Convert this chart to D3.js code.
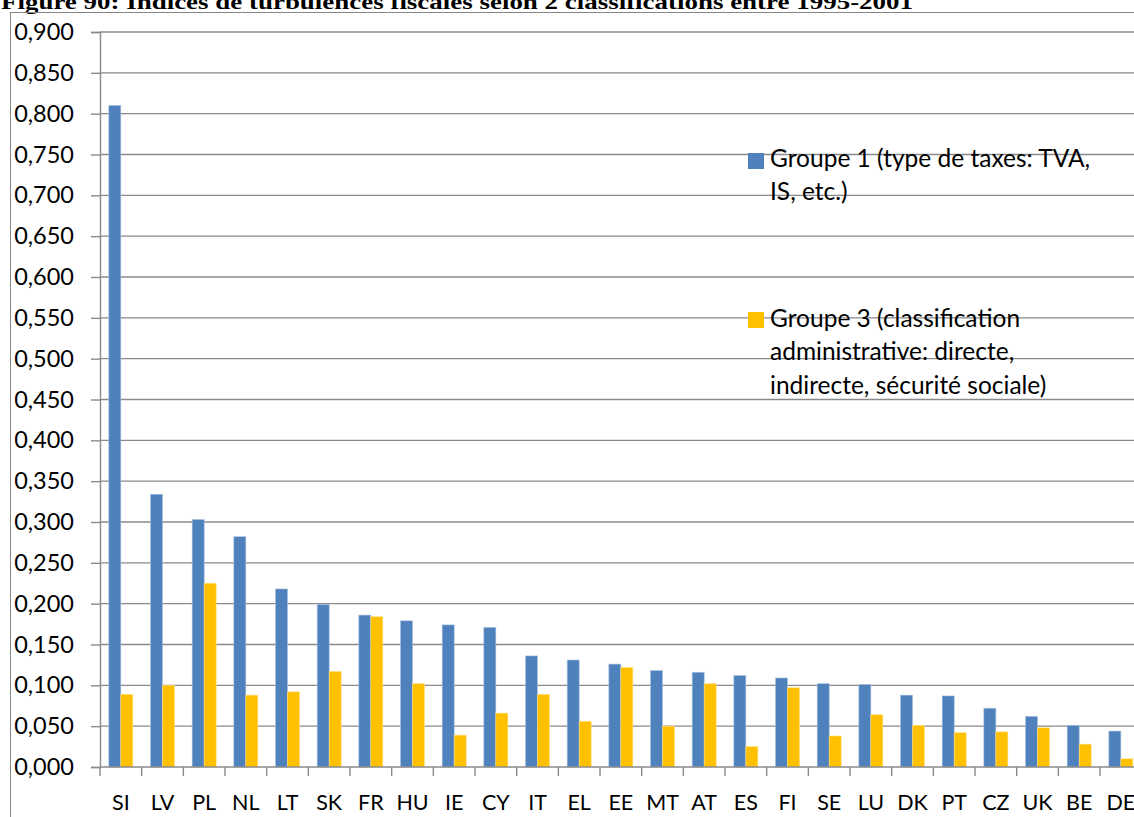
<!DOCTYPE html>
<html>
<head>
<meta charset="utf-8">
<script src="https://cdn.jsdelivr.net/npm/d3@7"></script>
<style>
  html, body { margin: 0; padding: 0; background: #fff; }
  svg { display: block; }
</style>
</head>
<body>
<svg id="chart" width="1134" height="817"></svg>
<script>
const titleText = "Figure 90: Indices de turbulences fiscales selon 2 classifications entre 1995-2001";
const categories = ["SI","LV","PL","NL","LT","SK","FR","HU","IE","CY","IT","EL","EE","MT","AT","ES","FI","SE","LU","DK","PT","CZ","UK","BE","DE"];
const groupe1 = [0.810,0.334,0.303,0.282,0.218,0.199,0.186,0.179,0.174,0.171,0.136,0.131,0.126,0.118,0.116,0.112,0.109,0.102,0.101,0.088,0.087,0.072,0.062,0.051,0.044];
const groupe3 = [0.089,0.100,0.225,0.088,0.092,0.117,0.184,0.102,0.039,0.066,0.089,0.056,0.122,0.050,0.102,0.025,0.097,0.038,0.064,0.051,0.042,0.043,0.048,0.028,0.010];
const yTicks = [0,0.05,0.1,0.15,0.2,0.25,0.3,0.35,0.4,0.45,0.5,0.55,0.6,0.65,0.7,0.75,0.8,0.85,0.9];
const seriesNames = ["Groupe 1", "Groupe 3"];
const legendLines = [
  ["Groupe 1 (type de taxes: TVA,", "IS, etc.)"],
  ["Groupe 3 (classification", "administrative: directe,", "indirecte, sécurité sociale)"]
];
const colors = ["#4F81BD", "#FFC000"];
const strokeColors = ["#A7C0DE", "#FFE080"];

const svg = d3.select("#chart");
const font = "Lato, 'Open Sans', sans-serif";

const plotLeft = 100, plotRight = 1141.7, plotTop = 32, plotBottom = 767;

// Title (cut off at the top, as in the reference)
svg.append("text")
  .attr("x", 1).attr("y", 8.5)
  .style("font-family", "'Times New Roman', 'Liberation Serif', Tinos, serif")
  .attr("font-weight", "bold")
  .attr("font-size", 22)
  .attr("textLength", 912)
  .attr("lengthAdjust", "spacingAndGlyphs")
  .text(titleText);

// Chart border
svg.append("rect")
  .attr("x", 10.5).attr("y", 12.5)
  .attr("width", 1140).attr("height", 820)
  .attr("fill", "none").attr("stroke", "#868686").attr("stroke-width", 1);

const y = d3.scaleLinear().domain([0, 0.9]).range([plotBottom, plotTop]);
const x0 = d3.scaleBand().domain(categories).range([plotLeft, plotRight])
  .paddingInner(0.424).paddingOuter(0.212);
const x1 = d3.scaleBand().domain(seriesNames).range([0, x0.bandwidth()]).padding(0);

// gridlines
svg.append("g").selectAll("line").data(yTicks.filter(d => d > 0)).join("line")
  .attr("x1", plotLeft).attr("x2", 1134)
  .attr("y1", d => y(d)).attr("y2", d => y(d))
  .attr("stroke", "#8a8a8a").attr("stroke-width", 1.4);

// Y axis
const fmt = d => d3.format(".3f")(d).replace(".", ",");
const yAxis = svg.append("g").attr("transform", `translate(${plotLeft},0)`)
  .call(d3.axisLeft(y).tickValues(yTicks).tickFormat(fmt).tickSize(9).tickPadding(17));
yAxis.select(".domain").attr("stroke", "#8a8a8a").attr("stroke-width", 1.4);
yAxis.selectAll(".tick line").attr("stroke", "#8a8a8a").attr("stroke-width", 1.4);
yAxis.selectAll(".tick text").attr("font-family", font).attr("font-size", 23.5).attr("fill", "#000");

// bars
const data = categories.map((c, i) => ({ c, vals: [groupe1[i], groupe3[i]] }));
const groups = svg.append("g").selectAll("g").data(data).join("g")
  .attr("transform", d => `translate(${x0(d.c)},0)`);
groups.selectAll("rect").data(d => d.vals.map((v, k) => ({ v, k }))).join("rect")
  .attr("x", d => x1(seriesNames[d.k]))
  .attr("width", x1.bandwidth())
  .attr("y", d => y(d.v))
  .attr("height", d => y(0) - y(d.v))
  .attr("fill", d => colors[d.k])
  .attr("stroke", d => strokeColors[d.k])
  .attr("stroke-width", 0.6);

// X axis
const xAxisBand = d3.scaleBand().domain(categories).range([plotLeft, plotRight]);
const xg = svg.append("g").attr("transform", `translate(0,${plotBottom})`);
xg.append("line").attr("x1", plotLeft).attr("x2", 1134).attr("y1", 0).attr("y2", 0)
  .attr("stroke", "#8a8a8a").attr("stroke-width", 1.4);
xg.selectAll("line.tk").data(categories).join("line").attr("class", "tk")
  .attr("x1", d => xAxisBand(d)).attr("x2", d => xAxisBand(d))
  .attr("y1", 0).attr("y2", 9)
  .attr("stroke", "#8a8a8a").attr("stroke-width", 1.4);
xg.selectAll("text").data(categories).join("text")
  .attr("x", d => xAxisBand(d) + xAxisBand.bandwidth() / 2)
  .attr("y", 43)
  .attr("text-anchor", "middle")
  .attr("font-family", font).attr("font-size", 21.5).attr("fill", "#000")
  .text(d => d);

// Legend
const legendPos = [{ sy: 153, ty: 167 }, { sy: 312, ty: 327 }];
legendLines.forEach((lines, k) => {
  svg.append("rect")
    .attr("x", 748).attr("y", legendPos[k].sy).attr("width", 16).attr("height", 16)
    .attr("fill", colors[k]);
  const t = svg.append("text")
    .attr("font-family", font).attr("font-size", 24.5).attr("fill", "#000");
  lines.forEach((ln, j) => {
    t.append("tspan").attr("x", 770).attr("y", legendPos[k].ty + j * 33.3).text(ln);
  });
});
</script>
</body>
</html>
